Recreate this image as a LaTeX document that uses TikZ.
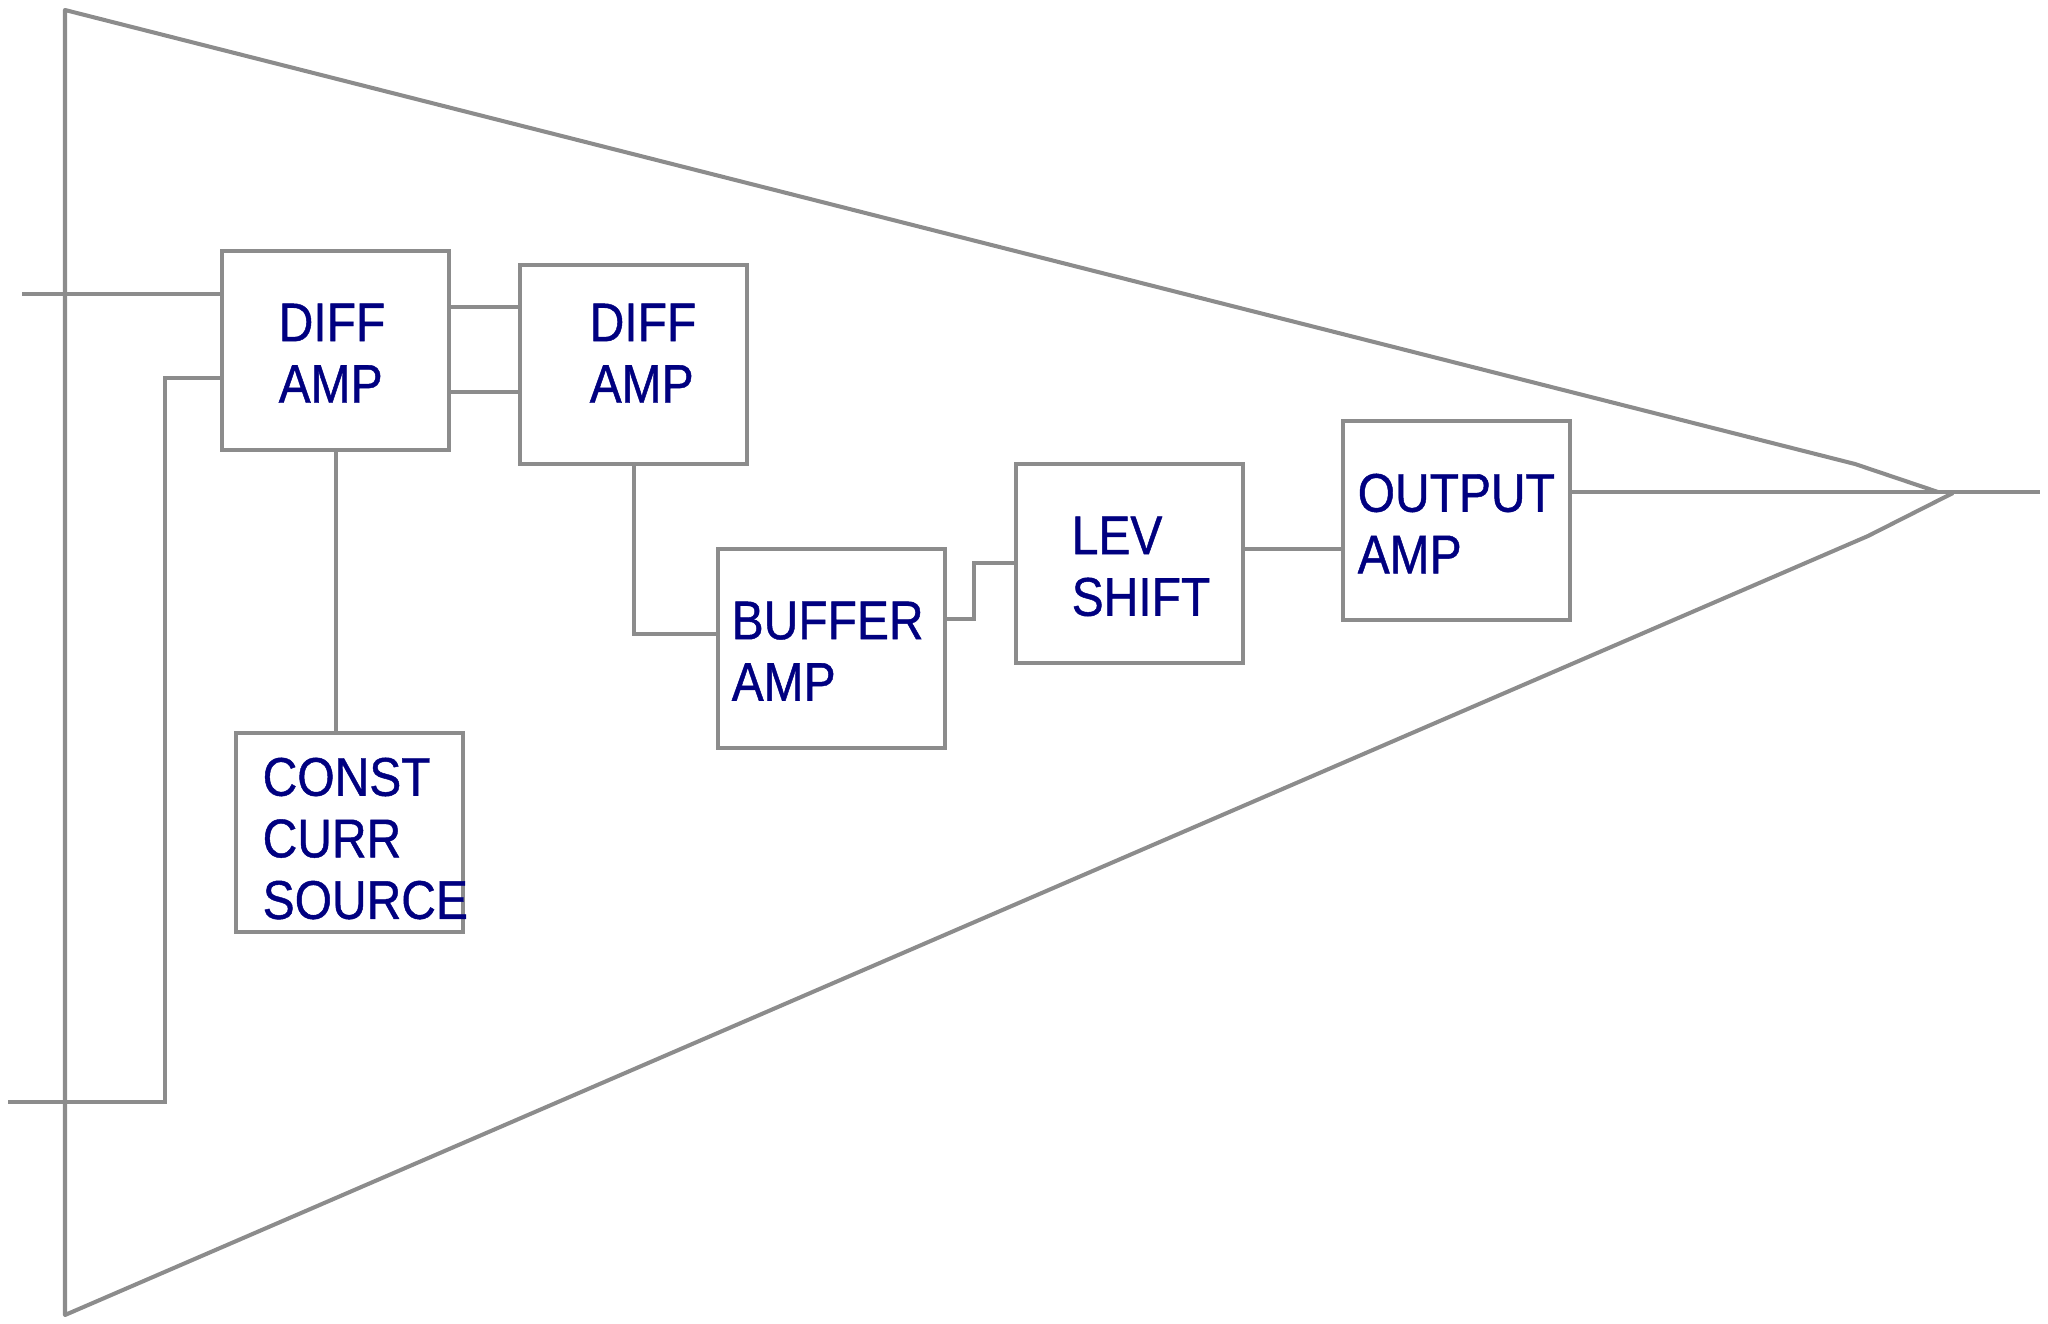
\documentclass[tikz,border=0pt]{standalone}
\usepackage{xcolor}
\usepackage{fontspec}
\setmainfont[FakeStretch=0.88, FakeBold=0.8]{Liberation Sans}
\definecolor{wiregray}{HTML}{8C8C8C}
\definecolor{labelblue}{HTML}{000080}
\tikzset{
    wire/.style={draw=wiregray, line width=1.15pt},
    block/.style={wire, fill=white, anchor=north west, inner sep=0pt, outer sep=0pt,
        minimum width=22.7mm, minimum height=19.85mm},
    blocklabel/.style={anchor=north west, inner sep=0pt, align=left, text=labelblue,
        font=\fontsize{15.5}{17.5}\selectfont}
}

\begin{document}
\begin{tikzpicture}[x=0.01cm, y=-0.01cm]
    \useasboundingbox (0,0) rectangle (2048,1324);

    % Amplifier outline
    \draw[wire, line join=round] (1938,492) -- (1855,464) -- (65,10) -- (65,1315) -- (1868,536) -- (1953,493);

    % Blocks
    \node[block] (diffa) at (222,251) {};
    \node[block] (diffb) at (520,265) {};
    \node[block] (buffer) at (718,549) {};
    \node[block] (levshift) at (1016,464) {};
    \node[block] (output) at (1343,421) {};
    \node[block] (source) at (236,733) {};

    % Labels
    \node[blocklabel] (diffatext) at (278,303) {DIFF\\AMP};
    \node[blocklabel] (diffbtext) at (589,303) {DIFF\\AMP};
    \node[blocklabel] (buffertext) at (731,601) {BUFFER\\AMP};
    \node[blocklabel] (levshifttext) at (1071,516) {LEV\\SHIFT};
    \node[blocklabel] (outputtext) at (1357,473) {OUTPUT\\AMP};
    \node[blocklabel] (sourcetext) at (262,757) {CONST\\CURR\\SOURCE};

    % Free ends and tap points
    \coordinate (inplus) at (22,294);
    \coordinate (inminus) at (8,1102);
    \coordinate (inminustap) at (165,378);
    \coordinate (outend) at (2040,492);
    \coordinate (linktop) at (485,307);
    \coordinate (linkbot) at (485,392);
    \coordinate (buffertap) at (634,634);
    \coordinate (bufferout) at (974,619);
    \coordinate (levin) at (974,563);
    \coordinate (levout) at (1290,549);

    % Connectors
    \draw[wire] (inplus) -- (inplus -| diffa.west);
    \draw[wire] (inminus) -| (inminustap) -- (inminustap -| diffa.west);
    \draw[wire] (linktop -| diffa.east) -- (linktop -| diffb.west);
    \draw[wire] (linkbot -| diffa.east) -- (linkbot -| diffb.west);
    \draw[wire] (diffa.south) -- (diffa.south |- source.north);
    \draw[wire] (diffb.south) |- (buffertap -| buffer.west);
    \draw[wire] (bufferout -| buffer.east) -- (bufferout) -- (levin) -- (levin -| levshift.west);
    \draw[wire] (levout -| levshift.east) -- (levout -| output.west);
    \draw[wire] (outend -| output.east) -- (outend);
\end{tikzpicture}
\end{document}
